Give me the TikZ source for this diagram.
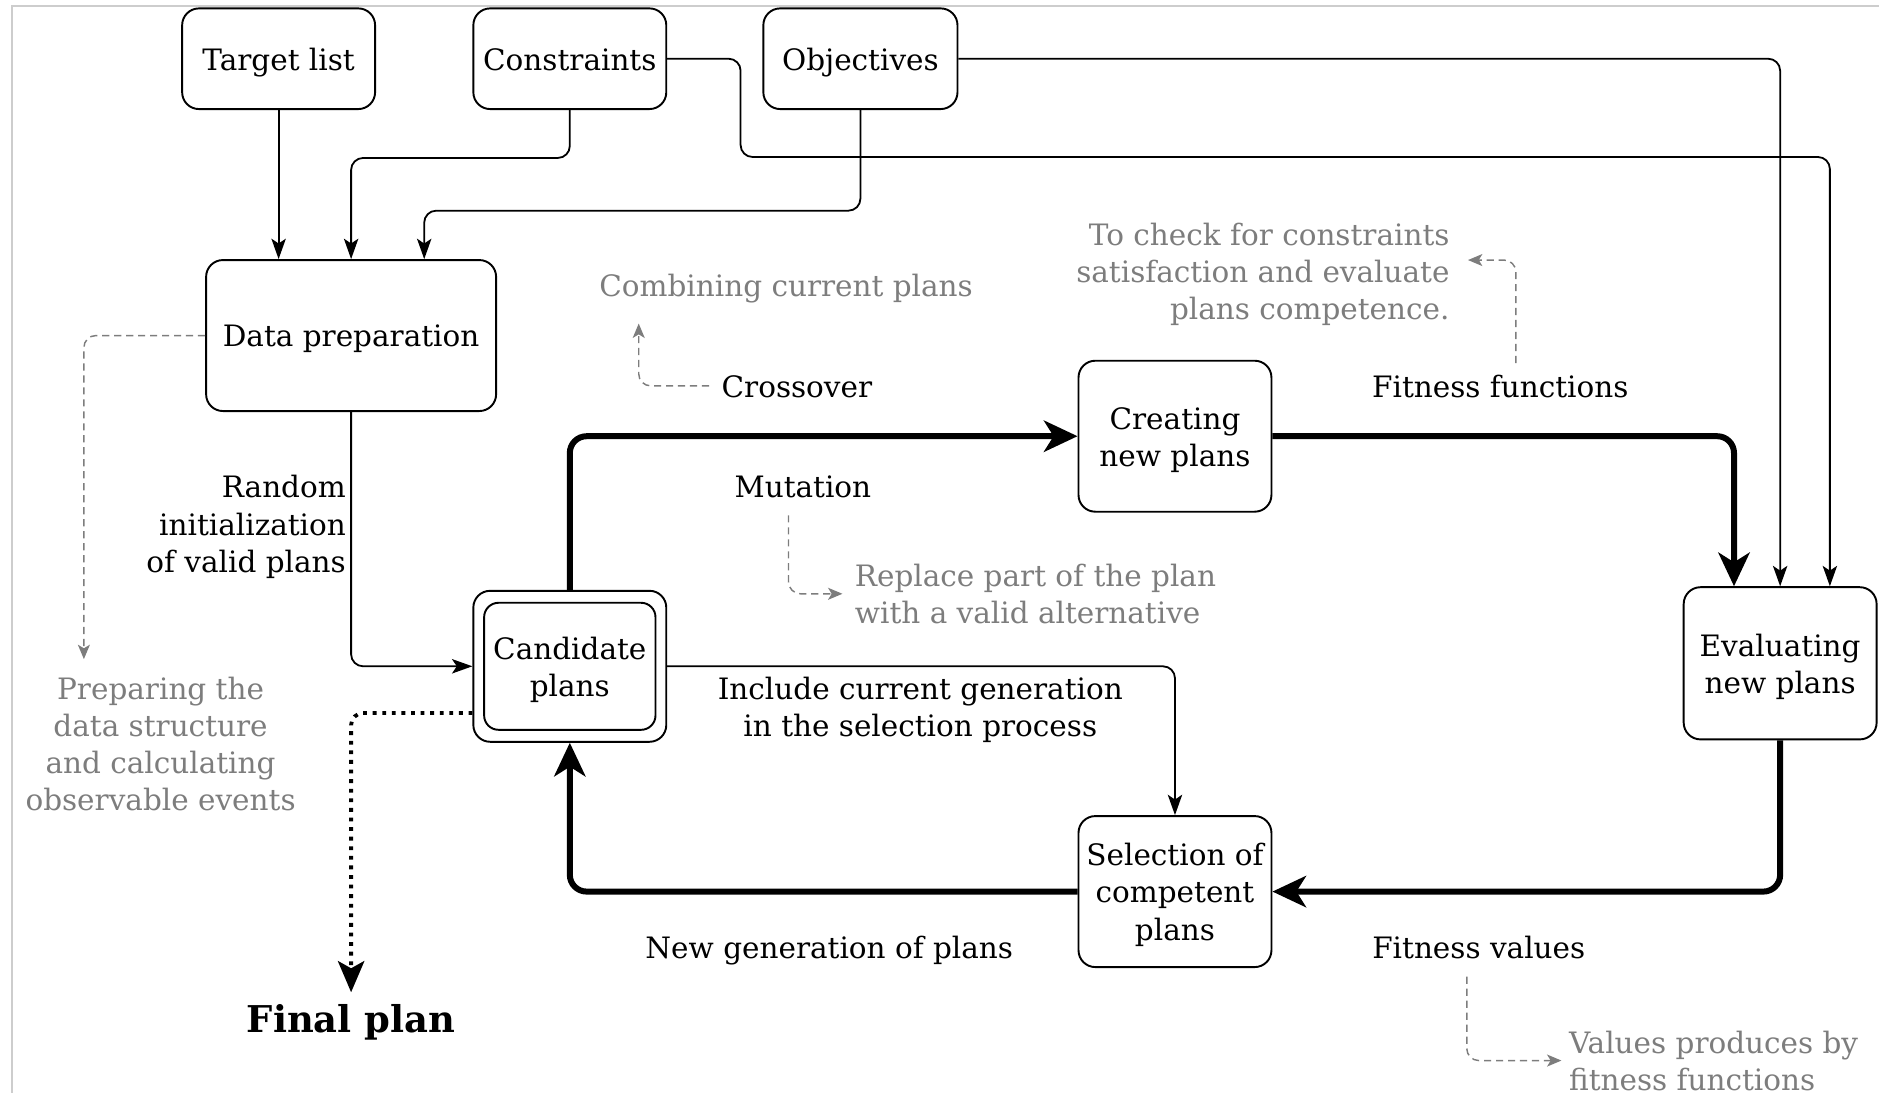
\documentclass[tikz,border=0pt]{standalone}
\usepackage{fontspec}
\setmainfont{DejaVu Serif}
\usetikzlibrary{arrows.meta}
\definecolor{notegray}{RGB}{125,125,125}
\definecolor{framegray}{RGB}{205,205,205}
\newcommand{\mystrut}{\rule[-3pt]{0pt}{15.5pt}}
\begin{document}
\begin{tikzpicture}[x=0.5pt,y=-0.5pt,
  every node/.style={font=\fontsize{12.3}{15.5}\selectfont, inner sep=1pt},
  txt/.style={execute at begin node=\mystrut, execute at end node=\mystrut},
  box/.style={txt, draw, line width=0.8pt, rounded corners=7pt, align=center, minimum width=80.5pt, minimum height=63pt, inner sep=0pt},
  lbl/.style={txt, align=center},
  note/.style={txt, text=notegray},
  conn/.style={line width=0.75pt, rounded corners=5pt, -{Stealth[length=8.5pt,width=6pt,inset=2pt]}},
  heavy/.style={line width=2.5pt, rounded corners=7pt, -{Stealth[length=14pt,width=13pt,inset=4pt]}},
  dotconn/.style={line width=1.6pt, dash pattern=on 1.6pt off 2.4pt, rounded corners=5pt, -{Stealth[length=13pt,width=11pt,inset=3pt]}},
  dashnote/.style={draw=notegray, line width=0.6pt, dash pattern=on 3pt off 2pt, rounded corners=5pt, -{Stealth[length=6pt,width=5pt,inset=1.5pt]}},
]
\useasboundingbox (0,0) rectangle (1568,912);
\draw[framegray, line width=0.8pt] (10,912) -- (10,5) -- (1568,5);

% boxes
\node[box, minimum height=42pt] (tl) at (232.5,49) {Target list};
\node[box, minimum height=42pt] (con) at (475.5,49) {Constraints};
\node[box, minimum height=42pt, minimum width=81pt] (obj) at (718,49) {Objectives};
\node[box, minimum width=121pt] (dp) at (293,280) {Data preparation};
\node[box] (cr) at (980.5,364) {\mystrut Creating\\new plans};
\node[draw, line width=0.8pt, rounded corners=7pt, minimum width=80.5pt, minimum height=63pt, inner sep=0pt] (cand) at (475.5,556) {};
\node[box, minimum width=71.5pt, minimum height=53pt, rounded corners=6pt] (candin) at (cand) {\mystrut Candidate\\plans};
\node[box, minimum height=63.5pt] (ev) at (1485.5,553.5) {\mystrut Evaluating\\new plans};
\node[box] (sel) at (980.5,744) {\mystrut Selection of\\competent\\plans};

% labels
\node[txt, anchor=east, align=right] (rnd) at (291,437) {\mystrut Random\\initialization\\of valid plans};
\node[lbl] (incl) at (768,590) {\mystrut Include current generation\\in the selection process};
\node[lbl] (newgen) at (692,790) {New generation of plans};
\node[lbl] (cross) at (665,322) {Crossover};
\node[lbl] (mut) at (670,406) {Mutation};
\node[lbl] (ff) at (1252,322) {Fitness functions};
\node[lbl] (fv) at (1234,790) {Fitness values};
\node[note] (comb) at (656,238) {Combining current plans};
\node[note, align=left, anchor=west] (repl) at (711,495.5) {\mystrut Replace part of the plan\\with a valid alternative};
\node[note, align=right, anchor=east] (check) at (1212,226) {\mystrut To check for constraints\\satisfaction and evaluate\\plans competence.};
\node[note, align=left, anchor=west] (vals) at (1307,885) {\mystrut Values produces by\\fitness functions};
\node[note, align=center] (prep) at (134,620.5) {\mystrut Preparing the\\data structure\\and calculating\\observable events};
\node[font=\bfseries\fontsize{15.4}{18}\selectfont] (final) at (293,853) {Final plan};

% thin connectors
\draw[conn] (tl.south) -- (tl.south |- dp.north);
\draw[conn] (con.south) -- ++(0,40) -| (dp.north);
\draw[conn] (obj.south) -- ++(0,84) -| ([xshift=30.5pt]dp.north);
\coordinate (conTurn) at (618,131);
\draw[conn] (con.east) -| (conTurn) -| ([xshift=20.75pt]ev.north);
\draw[conn] (obj.east) -| (ev.north);
\draw[conn] (dp.south) |- (cand.west);
\draw[conn] (cand.east) -| (sel.north);

% heavy loop
\draw[heavy] (cand.north) |- (cr.west);
\draw[heavy] (cr.east) -| ([xshift=-19.25pt]ev.north);
\draw[heavy] (ev.south) |- (sel.east);
\draw[heavy] (sel.west) -| (cand.south);

% dotted to final
\coordinate (finalEnd) at (293,828);
\draw[dotconn] ([yshift=-19.5pt]cand.west) -| (finalEnd);

% dashed notes
\coordinate (prepEnd) at (70,550);
\draw[dashnote] (dp.west) -| (prepEnd);
\coordinate (crossEnd) at (533,270);
\draw[dashnote] ([xshift=-4pt]cross.west) -| (crossEnd);
\coordinate (mutStart) at (658,430);
\draw[dashnote] (mutStart) |- ([xshift=-4pt]repl.west);
\coordinate (ffStart) at (1265,303);
\coordinate (ffEnd) at (1225,217);
\draw[dashnote] (ffStart) |- (ffEnd);
\coordinate (fvStart) at (1224,815);
\draw[dashnote] (fvStart) |- ([xshift=-2pt]vals.west);
\end{tikzpicture}
\end{document}
